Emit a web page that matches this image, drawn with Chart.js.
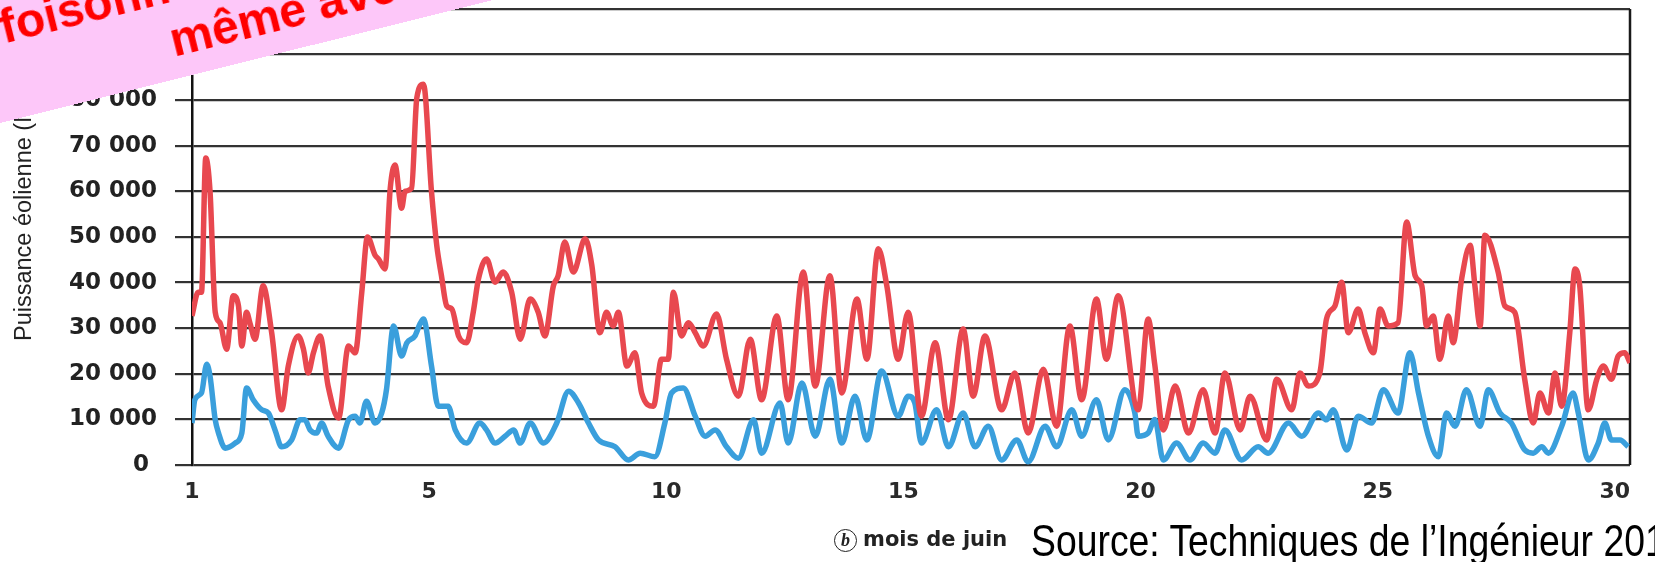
<!DOCTYPE html>
<html>
<head>
<meta charset="utf-8">
<script src="https://cdn.jsdelivr.net/npm/chart.js@4.4.1/dist/chart.umd.min.js"></script>
<style>
    body { margin: 0; background: #fff; overflow: hidden; }
    #wrap { position: relative; width: 1655px; height: 562px; overflow: hidden; background: #fff; }
    #chart { position: absolute; left: 0; top: 0; }
    .ytitle {
        position: absolute; left: 11px; top: 341px;
        transform-origin: 0 0; transform: rotate(-90deg);
        font: 23.5px "Liberation Sans", Arial, sans-serif; line-height: 24px;
        color: #222; white-space: nowrap;
    }
    .xcaption {
        position: absolute; left: 834px; top: 527px;
        font: bold 21px "DejaVu Sans", sans-serif; line-height: 24px;
        color: #222; white-space: nowrap;
    }
    .xcaption .circ {
        display: inline-block; width: 21px; height: 21px; line-height: 20px;
        border: 1.6px solid #222; border-radius: 50%; text-align: center;
        font: italic bold 18px "Liberation Serif", serif; margin-right: 6px; vertical-align: middle;
    }
    .source {
        position: absolute; left: 1031px; top: 518px;
        font: 45px "Liberation Sans", Arial, sans-serif; line-height: 45px;
        color: #000; white-space: nowrap;
        transform-origin: 0 0; transform: scaleX(0.83);
    }
    .banner {
        position: absolute; left: -302px; top: 56px; width: 1100px; height: 138px;
        transform-origin: 0 0; transform: rotate(-14deg);
        background: #fdc7f9;
    }
    .banner span {
        position: absolute; white-space: nowrap;
        font: bold 48px "Liberation Sans", Arial, sans-serif; line-height: 48px; color: #ff0000;
    }
</style>
</head>
<body>
<div id="wrap">
    <canvas id="chart" width="1655" height="562"></canvas>
    <div class="ytitle">Puissance éolienne (MW)</div>
    <div class="xcaption"><span class="circ">b</span>mois de juin</div>
    <div class="source">Source: Techniques de l’Ingénieur 2015</div>
    <div class="banner">
        <span style="left:300px; top:22px;">foisonnement</span>
        <span style="left:462px; top:76px;">même avec</span>
    </div>
</div>

<script>
// Jours écoulés depuis le 1er juin (le tick "1" est le début du mois)
const redDays = [
    0.00, 0.13, 0.20, 0.29, 0.38, 0.49, 0.59, 0.73, 0.87, 0.98, 1.05, 1.15, 1.22, 1.33, 1.50, 1.68, 1.89, 2.03, 2.24, 2.35,
    2.45, 2.56, 2.70, 2.87, 3.09, 3.30, 3.44, 3.58, 3.70, 3.86, 3.93, 4.07, 4.18, 4.28, 4.42, 4.49, 4.63, 4.74, 4.88, 5.05,
    5.16, 5.26, 5.37, 5.48, 5.62, 5.79, 5.93, 6.04, 6.21, 6.39, 6.56, 6.74, 6.92, 7.13, 7.30, 7.44, 7.62, 7.72, 7.86, 8.04,
    8.29, 8.43, 8.60, 8.74, 8.88, 8.99, 9.17, 9.34, 9.48, 9.73, 9.90, 10.04, 10.15, 10.32, 10.47, 10.61, 10.78, 11.06, 11.27, 11.52,
    11.77, 12.01, 12.33, 12.57, 12.89, 13.14, 13.45, 13.70, 14.02, 14.23, 14.47, 14.65, 14.89, 15.10, 15.38, 15.67, 15.95, 16.26, 16.47, 16.72,
    17.07, 17.35, 17.63, 17.95, 18.23, 18.51, 18.76, 19.07, 19.28, 19.53, 19.95, 20.16, 20.30, 20.48, 20.73, 21.01, 21.32, 21.57, 21.78, 22.10,
    22.31, 22.66, 22.87, 23.19, 23.36, 23.54, 23.78, 23.92, 24.10, 24.24, 24.38, 24.59, 24.73, 24.91, 25.05, 25.22, 25.43, 25.61, 25.79, 25.93,
    26.03, 26.17, 26.31, 26.49, 26.59, 26.77, 26.95, 27.05, 27.16, 27.26, 27.54, 27.68, 27.89, 28.10, 28.28, 28.42, 28.60, 28.74, 28.88, 29.05,
    29.16, 29.26, 29.44, 29.62, 29.76, 29.93, 30.07, 30.21, 30.32
];
const redValues = [
    32700, 37900, 37900, 67300, 60000, 33500, 31200, 25400, 37100, 34900, 26100, 33500, 31200, 27600, 39300, 29000, 12100, 21700, 28300, 25400,
    20200, 24600, 28300, 17300, 10300, 26100, 24600, 37900, 50000, 46000, 45200, 43000, 60700, 65800, 56300, 60000, 60700, 80500, 83500, 59900,
    48200, 41500, 34900, 34200, 28300, 26800, 33500, 40800, 45200, 40100, 42300, 37900, 27600, 36400, 33500, 28300, 39300, 41500, 48900, 42300,
    49600, 43800, 29000, 33500, 30500, 33500, 21700, 24600, 15800, 12900, 23200, 23200, 37900, 28300, 31200, 29000, 26100, 33100, 23200, 15100,
    27600, 14300, 32700, 14300, 42300, 17300, 41500, 15800, 36400, 23200, 47400, 39300, 23200, 33500, 10700, 26800, 9900, 29800, 15100, 28300,
    12100, 20200, 7000, 21000, 8500, 30500, 14300, 36400, 23200, 37100, 12100, 32000, 22000, 7700, 17300, 7000, 16500, 7000, 20200, 7700,
    15100, 5500, 18800, 12100, 20200, 17300, 20200, 32000, 34900, 40100, 29000, 34200, 29000, 24600, 34200, 30500, 31200, 53300, 41500, 39300,
    30500, 32700, 23200, 32700, 26800, 40800, 48200, 39300, 30500, 50400, 42300, 34900, 33500, 18800, 9200, 15800, 11400, 20200, 12900, 29000,
    43000, 39300, 12100, 18800, 21700, 18800, 23900, 24600, 22400
];

const blueDays = [
    0.00, 0.06, 0.20, 0.31, 0.38, 0.49, 0.56, 0.70, 0.91, 1.05, 1.15, 1.29, 1.47, 1.61, 1.75, 1.89, 2.10, 2.28, 2.38, 2.49,
    2.63, 2.73, 2.87, 3.09, 3.30, 3.44, 3.54, 3.68, 3.86, 4.00, 4.10, 4.25, 4.42, 4.53, 4.70, 4.81, 4.88, 5.05, 5.19, 5.40,
    5.55, 5.79, 6.07, 6.21, 6.39, 6.60, 6.78, 6.92, 7.13, 7.41, 7.69, 7.94, 8.15, 8.36, 8.57, 8.92, 9.20, 9.45, 9.76, 9.97,
    10.11, 10.36, 10.61, 10.82, 11.03, 11.27, 11.52, 11.84, 12.01, 12.40, 12.57, 12.86, 13.14, 13.45, 13.70, 13.98, 14.23, 14.54, 14.89, 15.10,
    15.24, 15.38, 15.70, 15.95, 16.26, 16.51, 16.79, 17.07, 17.39, 17.63, 17.99, 18.23, 18.55, 18.76, 19.07, 19.32, 19.67, 19.88, 19.95, 20.16,
    20.30, 20.48, 20.76, 21.04, 21.32, 21.57, 21.78, 22.13, 22.48, 22.69, 23.12, 23.40, 23.75, 23.92, 24.06, 24.35, 24.59, 24.87, 25.12, 25.43,
    25.68, 25.86, 26.07, 26.28, 26.45, 26.63, 26.87, 27.16, 27.33, 27.58, 27.82, 28.10, 28.28, 28.46, 28.60, 28.88, 29.12, 29.23, 29.44, 29.65,
    29.79, 29.93, 30.11, 30.28
];
const blueValues = [
    9200, 14300, 15800, 22100, 19500, 9900, 7000, 3700, 4800, 7000, 16900, 14300, 12100, 11400, 7700, 4000, 5500, 9900, 9900, 7700,
    7000, 9200, 6300, 3700, 9900, 10700, 9200, 14000, 9200, 11400, 16500, 30500, 23900, 26800, 28300, 31000, 32000, 21700, 12900, 12900,
    7700, 4800, 9200, 7700, 4800, 6300, 7700, 4800, 9200, 4800, 9200, 16200, 13600, 9200, 5500, 4000, 1100, 2600, 1800, 9200,
    15800, 16900, 10700, 6300, 7700, 4000, 1500, 9900, 2600, 13600, 4800, 18000, 6300, 18800, 4800, 15100, 5500, 20600, 10700, 15100,
    13600, 4800, 12100, 4000, 11400, 4000, 8500, 1100, 5500, 700, 8500, 4000, 12100, 6300, 14300, 5500, 16500, 11400, 6300, 7000,
    10000, 1100, 4800, 1100, 4800, 2600, 7700, 1100, 4000, 2600, 9200, 6300, 11400, 9900, 12100, 3300, 10700, 9200, 16500, 11400,
    24600, 15800, 6300, 1800, 11400, 8500, 16500, 8500, 16500, 11400, 9200, 3300, 2600, 4000, 2600, 8500, 15800, 11400, 1100, 4800,
    9200, 5500, 5500, 4000
];

const xTickValues = [0, 5, 10, 15, 20, 25, 30];
const xTickLabels = ['1', '5', '10', '15', '20', '25', '30'];
const yTickValues = [0, 10000, 20000, 30000, 40000, 50000, 60000, 70000, 80000, 90000, 100000];
const yTickLabels = ['0\u00a0', '10 000', '20 000', '30 000', '40 000', '50 000', '60 000', '70 000', '80 000', '90 000', '100 000'];

const toPoints = (xs, ys) => xs.map((x, i) => ({ x: x, y: ys[i] }));

// cadre droit du graphique
const frameRight = {
    id: 'frameRight',
    beforeDatasetsDraw(chart) {
        const { ctx, chartArea } = chart;
        ctx.save();
        ctx.strokeStyle = '#1a1a1a';
        ctx.lineWidth = 2.5;
        ctx.beginPath();
        ctx.moveTo(chartArea.right, chartArea.top);
        ctx.lineTo(chartArea.right, chartArea.bottom);
        ctx.stroke();
        ctx.restore();
    }
};

new Chart(document.getElementById('chart').getContext('2d'), {
    type: 'line',
    data: {
        datasets: [
            {
                label: 'Europe',
                data: toPoints(redDays, redValues),
                borderColor: '#e8484f',
                borderWidth: 5.5,
                pointRadius: 0,
                cubicInterpolationMode: 'monotone',
                fill: false
            },
            {
                label: 'France',
                data: toPoints(blueDays, blueValues),
                borderColor: '#3a9fdc',
                borderWidth: 5.5,
                pointRadius: 0,
                cubicInterpolationMode: 'monotone',
                fill: false
            }
        ]
    },
    options: {
        responsive: false,
        animation: false,
        layout: { padding: { top: 9, right: 25, left: 0, bottom: 0 } },
        plugins: {
            legend: { display: false },
            tooltip: { enabled: false }
        },
        scales: {
            x: {
                type: 'linear',
                min: 0,
                max: 30.32,
                grid: { display: false, drawTicks: false },
                border: { display: false },
                afterBuildTicks: (scale) => { scale.ticks = xTickValues.map(v => ({ value: v })); },
                afterFit: (scale) => { scale.height = 97; scale.paddingLeft = 0; scale.paddingRight = 0; },
                ticks: {
                    color: '#2a2a2a',
                    font: { family: '"DejaVu Sans", sans-serif', size: 22, weight: 'bold' },
                    padding: 14,
                    maxRotation: 0,
                    callback: (v) => xTickLabels[xTickValues.indexOf(v)]
                }
            },
            y: {
                min: 0,
                max: 100000,
                grid: { color: '#333', lineWidth: 2.2, drawTicks: true, tickLength: 17, tickColor: '#333' },
                border: { display: true, color: '#111', width: 2.5 },
                afterBuildTicks: (scale) => { scale.ticks = yTickValues.map(v => ({ value: v })); },
                afterFit: (scale) => { scale.width = 192; scale.paddingTop = 0; scale.paddingBottom = 0; },
                ticks: {
                    color: '#222',
                    font: { family: '"DejaVu Sans", sans-serif', size: 23, weight: 'bold' },
                    padding: 18,
                    callback: (v) => yTickLabels[yTickValues.indexOf(v)]
                }
            }
        }
    },
    plugins: [frameRight]
});
</script>
</body>
</html>
